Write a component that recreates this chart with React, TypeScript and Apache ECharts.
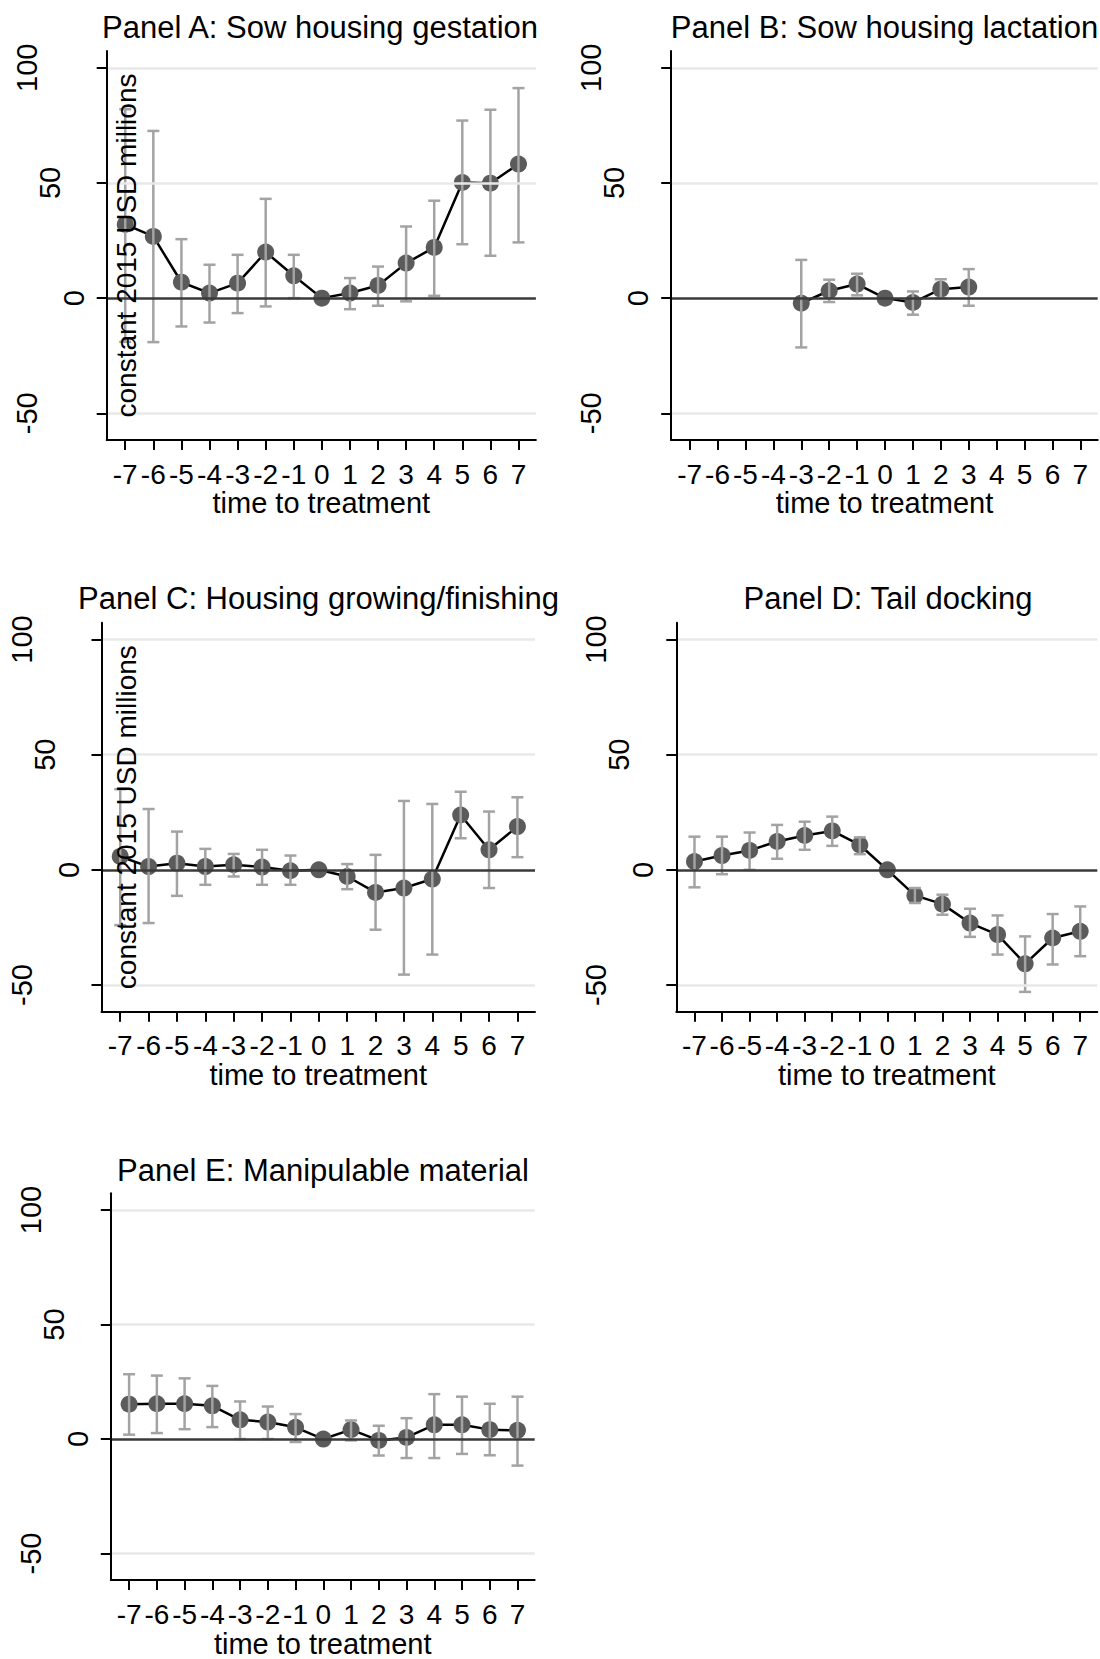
import React, { useEffect, useRef } from "react";
import * as echarts from "echarts";

// ---------- data ----------
const xTicks = [-7, -6, -5, -4, -3, -2, -1, 0, 1, 2, 3, 4, 5, 6, 7];
const yTicks = [-50, 0, 50, 100];
const gridLevels = [100, 50, -50];

const titles = [
  "Panel A: Sow housing gestation",
  "Panel B: Sow housing lactation",
  "Panel C: Housing growing/finishing",
  "Panel D: Tail docking",
  "Panel E: Manipulable material",
];
const xTitle = "time to treatment";
const yTitle = "constant 2015 USD millions";

const coefA = [32, 26.8, 6.9, 2.2, 6.5, 20.0, 9.7, 0, 2.2, 5.5, 15.2, 22.0, 50.2, 49.9, 58.2];
const loA = [-19, -19.1, -12.3, -10.6, -6.5, -3.6, 0, null, -4.8, -3.3, -1.4, 1.0, 23.4, 18.4, 24.2];
const hiA = [82, 72.6, 25.6, 14.5, 18.8, 43.1, 18.8, null, 8.7, 13.7, 31.1, 42.3, 77.1, 81.8, 91.2];

const coefB = [null, null, null, null, -2.2, 3.2, 6.1, 0, -1.9, 3.9, 4.8, null, null, null, null];
const loB = [null, null, null, null, -21.4, -1.7, 1.2, null, -7.2, 0, -3.3, null, null, null, null];
const hiB = [null, null, null, null, 16.6, 8.0, 10.6, null, 2.9, 8.2, 12.6, null, null, null, null];

const coefC = [5.8, 1.4, 2.9, 1.4, 2.2, 1.2, -0.4, 0, -2.9, -9.8, -7.9, -4.0, 23.8, 8.7, 18.8];
const loC = [-24, -23.1, -11.3, -6.5, -2.9, -6.5, -6.5, null, -8.4, -26.0, -45.5, -36.8, 13.7, -7.9, 5.5];
const hiC = [35, 26.4, 16.6, 9.1, 6.9, 8.7, 6.2, null, 2.5, 6.5, 29.9, 28.6, 33.9, 25.3, 31.5];

const coefD = [3.6, 6.2, 8.4, 12.3, 14.9, 16.9, 10.8, 0, -11.1, -14.9, -23.1, -28.1, -40.8, -29.6, -26.7];
const loD = [-7.6, -1.9, 0, 4.8, 8.7, 10.4, 6.8, null, -14.4, -19.5, -29.1, -36.8, -53.0, -41.1, -37.5];
const hiD = [14.4, 14.4, 16.2, 19.5, 20.9, 23.1, 14.1, null, -7.9, -10.8, -16.9, -19.8, -28.9, -19.2, -15.9];

const coefE = [15.2, 15.4, 15.4, 14.5, 8.4, 7.4, 5.1, 0, 4.1, -0.6, 0.7, 6.2, 6.2, 4.1, 3.8];
const loE = [1.9, 2.6, 4.3, 5.2, 0, 0, -1.3, null, -0.6, -7.2, -8.3, -8.3, -6.5, -7.1, -11.6];
const hiE = [28.3, 27.7, 26.5, 23.2, 16.4, 14.2, 10.9, null, 8.1, 5.8, 9.1, 19.6, 18.5, 15.4, 18.5];

const coefs = [coefA, coefB, coefC, coefD, coefE];
const los = [loA, loB, loC, loD, loE];
const his = [hiA, hiB, hiC, hiD, hiE];
const showYTitle = [true, false, true, false, false];

// ---------- layout ----------
const X_MIN = -7.66;
const X_MAX = 7.62;
const Y_MIN = -61.6;
const Y_MAX = 107.3;
const FONT = '"Liberation Sans", Arial, Helvetica, sans-serif';

const layouts = [
  { left: 106.7, top: 51, width: 429.2, height: 389, titleX: 320, titleY: 27.3, yTitleGap: -20 },
  { left: 671.2, top: 51, width: 426.5, height: 389, titleX: 884.5, titleY: 27.3, yTitleGap: 0 },
  { left: 101.5, top: 622.7, width: 433.5, height: 389, titleX: 318.5, titleY: 598.9, yTitleGap: -25 },
  { left: 676.3, top: 622.7, width: 421, height: 389, titleX: 888, titleY: 598.9, yTitleGap: 0 },
  { left: 110.8, top: 1193.3, width: 423.9, height: 389.4, titleX: 323, titleY: 1170.3, yTitleGap: 0 },
];

function buildOption() {
  const grid: any[] = [];
  const xAxis: any[] = [];
  const yAxis: any[] = [];
  const series: any[] = [];
  const graphic: any[] = [];

  layouts.forEach((L, i) => {
    grid.push({ left: L.left, top: L.top, width: L.width, height: L.height, containLabel: false });
    xAxis.push({
      type: "value",
      gridIndex: i,
      min: X_MIN,
      max: X_MAX,
      z: 10,
      axisLine: { show: true, onZero: false, lineStyle: { color: "#000", width: 2 } },
      axisTick: { show: true, customValues: xTicks, length: 10, lineStyle: { color: "#000", width: 2 } },
      axisLabel: { show: true, customValues: xTicks, fontSize: 28, color: "#000", fontFamily: FONT, margin: 20 },
      splitLine: { show: false },
      name: xTitle,
      nameLocation: "middle",
      nameGap: 60,
      nameTextStyle: { fontSize: 29, color: "#000", fontFamily: FONT, verticalAlign: "middle" },
    });
    const richBase = { fontSize: 29, color: "#000", fontFamily: FONT };
    yAxis.push({
      type: "value",
      gridIndex: i,
      min: Y_MIN,
      max: Y_MAX,
      z: 10,
      axisLine: { show: true, onZero: false, lineStyle: { color: "#000", width: 2 } },
      axisTick: { show: true, customValues: yTicks, length: 10, lineStyle: { color: "#000", width: 2 } },
      axisLabel: {
        show: true,
        customValues: yTicks,
        rotate: 90,
        margin: 0,
        fontSize: 29,
        color: "#000",
        fontFamily: FONT,
        formatter: (v: number) => {
          const s = String(v);
          return "{l" + Math.min(s.length, 3) + "|" + s + "}";
        },
        rich: {
          l1: { ...richBase, lineHeight: 66 },
          l2: { ...richBase, lineHeight: 114 },
          l3: { ...richBase, lineHeight: 160 },
        },
      },
      splitLine: { show: false },
      name: showYTitle[i] ? yTitle : "",
      nameLocation: "middle",
      nameRotate: 90,
      nameGap: L.yTitleGap,
      nameTextStyle: { fontSize: 28, color: "#000", fontFamily: FONT, verticalAlign: "middle", align: "center" },
    });

    // gridlines + zero line
    series.push({
      type: "line",
      xAxisIndex: i,
      yAxisIndex: i,
      data: [],
      z: 1,
      silent: true,
      markLine: {
        silent: true,
        symbol: ["none", "none"],
        label: { show: false },
        animation: false,
        data: [
          ...gridLevels.map((v) => ({ yAxis: v, lineStyle: { color: "#e8e8e8", width: 2.5, type: "solid" } })),
          { yAxis: 0, lineStyle: { color: "#3a3a3a", width: 2.5, type: "solid" } },
        ],
      },
    });

    const pts: number[][] = [];
    const bars: number[][] = [];
    xTicks.forEach((x, k) => {
      const c = coefs[i][k];
      if (c !== null && c !== undefined) pts.push([x, c]);
      const lo = los[i][k];
      const hi = his[i][k];
      if (lo !== null && hi !== null && lo !== undefined && hi !== undefined) bars.push([x, lo, hi]);
    });

    series.push({
      type: "line",
      xAxisIndex: i,
      yAxisIndex: i,
      data: pts,
      z: 2,
      silent: true,
      symbol: "circle",
      symbolSize: 17,
      showSymbol: true,
      showAllSymbol: true,
      itemStyle: { color: "#5b5b5b" },
      lineStyle: { color: "#000", width: 2.5 },
    });

    series.push({
      type: "custom",
      xAxisIndex: i,
      yAxisIndex: i,
      data: bars,
      z: 3,
      silent: true,
      encode: { x: 0, y: [1, 2] },
      renderItem: (params: any, api: any) => {
        const x = api.value(0);
        const lo = api.value(1);
        const hi = api.value(2);
        const pT = api.coord([x, hi]);
        const pB = api.coord([x, lo]);
        const style = { stroke: "#a3a3a3", lineWidth: 2.5, fill: null };
        const hw = 6;
        return {
          type: "group",
          children: [
            { type: "line", shape: { x1: pT[0], y1: pT[1], x2: pB[0], y2: pB[1] }, style },
            { type: "line", shape: { x1: pT[0] - hw, y1: pT[1], x2: pT[0] + hw, y2: pT[1] }, style },
            { type: "line", shape: { x1: pB[0] - hw, y1: pB[1], x2: pB[0] + hw, y2: pB[1] }, style },
          ],
        };
      },
    });

    graphic.push({
      type: "text",
      x: L.titleX,
      y: L.titleY,
      silent: true,
      style: {
        text: titles[i],
        fontSize: 31,
        fontFamily: FONT,
        fill: "#000",
        align: "center",
        verticalAlign: "middle",
        textAlign: "center",
        textVerticalAlign: "middle",
      },
    });
  });

  return {
    animation: false,
    backgroundColor: "#fff",
    grid,
    xAxis,
    yAxis,
    series,
    graphic,
  };
}

export default function App() {
  const ref = useRef<HTMLDivElement>(null);
  useEffect(() => {
    if (!ref.current) return;
    const chart = echarts.init(ref.current, null, { renderer: "svg" });
    chart.setOption(buildOption() as any);
    return () => chart.dispose();
  }, []);
  return (
    <div
      ref={ref}
      style={{ position: "absolute", left: 0, top: 0, width: 1100, height: 1659, background: "#fff" }}
    />
  );
}
